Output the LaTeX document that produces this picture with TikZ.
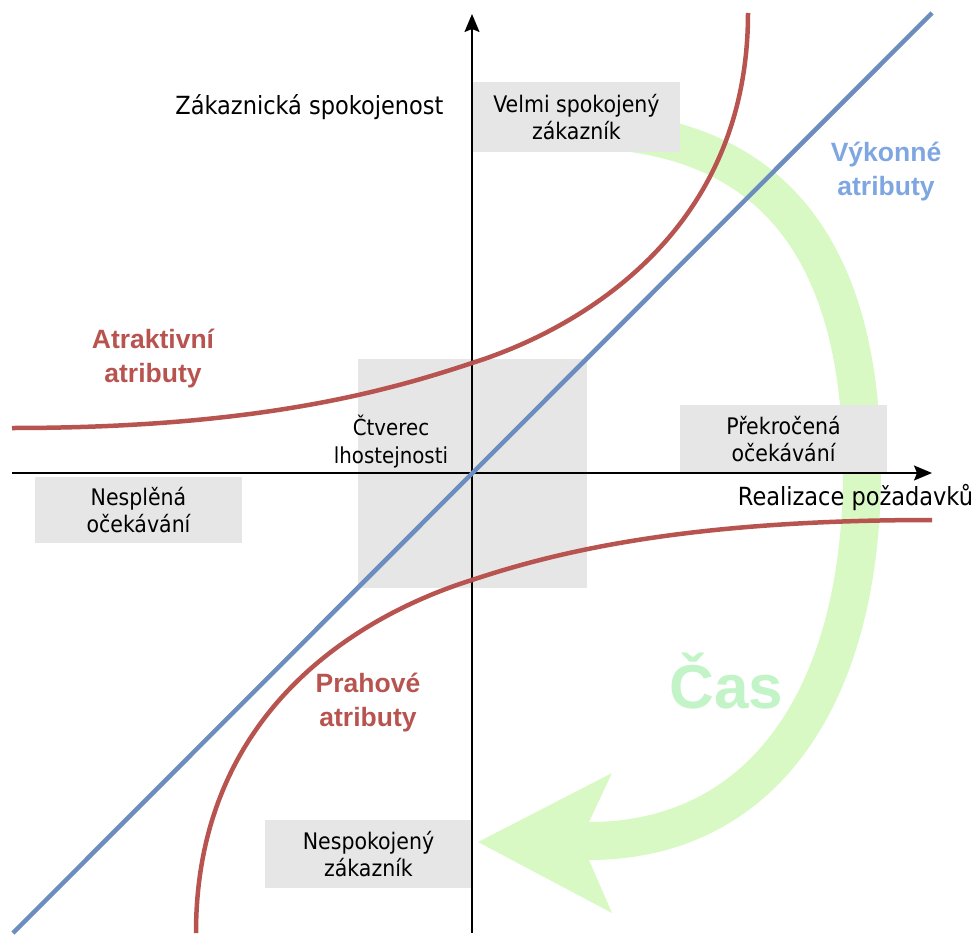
\documentclass[tikz,border=0pt]{standalone}
\usepackage{fontspec}
\setmainfont{DejaVu Sans Condensed}
\newfontfamily\labfont{Liberation Sans}
\usetikzlibrary{arrows.meta}
\definecolor{boxgray}{HTML}{E6E6E6}
\definecolor{bandgreen}{RGB}{217,249,196}
\definecolor{casgreen}{RGB}{194,244,200}
\definecolor{attrred}{HTML}{B85450}
\definecolor{lineblue}{HTML}{6C8EBF}
\definecolor{textblue}{HTML}{7EA6E0}
\tikzset{
  graybox/.style={fill=boxgray, draw=none, inner sep=0pt, align=center,
    font=\fontsize{22.8}{27}\selectfont},
  axisline/.style={line width=1.6pt, black, -{Stealth[length=18pt,width=15pt,inset=3pt]}},
  redcurve/.style={line width=4.5pt, attrred},
  bluecurve/.style={line width=4.5pt, lineblue},
  band/.style={line width=38pt, bandgreen},
  boldlab/.style={font=\labfont\bfseries\fontsize{26.5}{34}\selectfont, align=center},
  plainlab/.style={font=\fontsize{25}{28}\selectfont}
}
\begin{document}
\begin{tikzpicture}[x=1pt,y=-1pt]
\useasboundingbox (0,0) rectangle (979,936);
% time arrow (green band)
\coordinate (g0) at (600,130);
\coordinate (g1) at (862,470);
\coordinate (g2) at (589,841);
\draw[band] (g0) .. controls (780,140) and (862,260) .. (g1)
  .. controls (862,700) and (760,841) .. (g2);
\coordinate (gtip) at (478,842);
\fill[bandgreen] (gtip) -- (612,773) -- (589,822) -- (589,860) -- (612,913) -- cycle;
\node[font=\labfont\bfseries\fontsize{62}{62}\selectfont, text=casgreen, anchor=base] (cas) at (726.5,708) {Čas};
% gray boxes
\node[graybox, minimum width=229pt, minimum height=229pt] (ind) at (472.5,473.5) {};
\node[graybox, minimum width=207pt, minimum height=70pt] (vs) at (576.5,117) {Velmi spokojený\\zákazník};
\node[graybox, minimum width=207pt, minimum height=68pt] (pk) at (783.5,439) {Překročená\\očekávání};
\node[graybox, minimum width=207pt, minimum height=66pt] (ns) at (138.5,510) {Nesplěná\\očekávání};
\node[graybox, minimum width=207pt, minimum height=68pt] (nz) at (368.5,854) {Nespokojený\\zákazník};
\node[font=\fontsize{22}{28}\selectfont, align=center] (indt) at (391,442) {Čtverec\\lhostejnosti};
% axes
\coordinate (yb) at (472,933);
\coordinate (yt) at (472,14);
\coordinate (xl) at (12,473);
\coordinate (xr) at (932,473);
\draw[axisline] (yb) -- (yt);
\draw[axisline] (xl) -- (xr);
% performance attributes
\coordinate (b0) at (13,933);
\coordinate (b1) at (932,13);
\draw[bluecurve] (b0) -- (b1);
% attractive attributes
\coordinate (a0) at (12,428);
\coordinate (a1) at (472,363);
\coordinate (a2) at (748,13);
\draw[redcurve] (a0) .. controls (252,428) and (382,393) .. (a1)
  .. controls (568,333) and (748,240) .. (a2);
% threshold attributes
\coordinate (t0) at (932,520);
\coordinate (t1) at (472,580);
\coordinate (t2) at (196,933);
\draw[redcurve] (t0) .. controls (692,520) and (562,550) .. (t1)
  .. controls (376,610) and (196,700) .. (t2);
% labels
\node[plainlab, anchor=base east] (ylab) at (447,115) {Zákaznická spokojenost};
\node[plainlab, anchor=base] (xlab) at (855.5,505) {Realizace požadavků};
\node[boldlab, text=attrred] (atr) at (153,359) {Atraktivní\\atributy};
\node[boldlab, text=textblue] (vyk) at (886,172) {Výkonné\\atributy};
\node[boldlab, text=attrred] (prh) at (368,703) {Prahové\\atributy};
\end{tikzpicture}
\end{document}
